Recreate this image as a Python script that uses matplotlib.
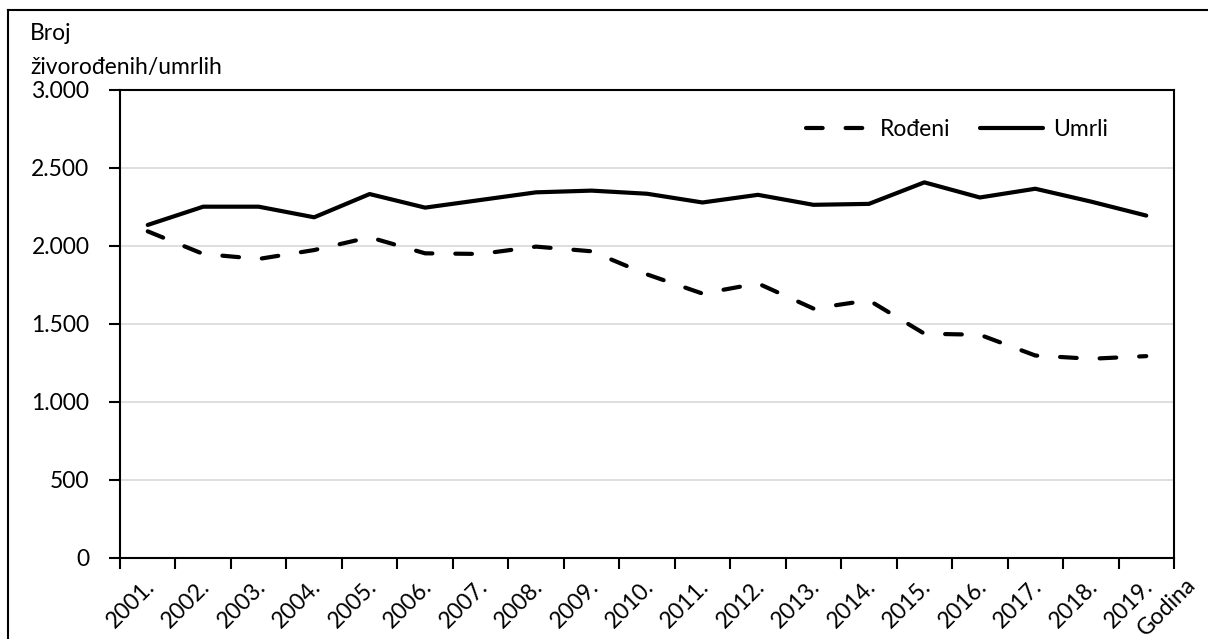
import numpy as np
import matplotlib
matplotlib.use("Agg")
import matplotlib.pyplot as plt
import matplotlib.transforms as mtransforms
from matplotlib.lines import Line2D
from matplotlib.ticker import FuncFormatter

plt.rcParams['font.family'] = ['Lato', 'DejaVu Sans']

# data
years = ['2001.', '2002.', '2003.', '2004.', '2005.', '2006.', '2007.', '2008.', '2009.', '2010.',
         '2011.', '2012.', '2013.', '2014.', '2015.', '2016.', '2017.', '2018.', '2019.']
rodjeni = [2094, 1949, 1917, 1974, 2056, 1953, 1949, 1996, 1966, 1818,
           1695, 1760, 1599, 1652, 1438, 1431, 1298, 1277, 1294]
umrli = [2135, 2252, 2252, 2184, 2333, 2246, 2295, 2344, 2355, 2335,
         2279, 2328, 2264, 2270, 2408, 2311, 2367, 2285, 2195]

fs = 16.5
fig = plt.figure(figsize=(12.08, 6.39), dpi=100)
ax = fig.add_axes([120/1208, 1-558/639, (1174-120)/1208, (558-90)/639])

x = np.arange(len(years))
ax.plot(x, rodjeni, color='black', lw=3, linestyle=(0, (4, 5.5)), dash_capstyle='round',
        label='Rođeni')
ax.plot(x, umrli, color='black', lw=3, solid_capstyle='round', label='Umrli')

ax.set_xlim(-0.5, len(years) - 0.5)
ax.set_ylim(0, 3000)
ax.set_yticks(np.arange(0, 3001, 500))
ax.yaxis.set_major_formatter(FuncFormatter(lambda v, p: f"{v:,.0f}".replace(",", ".")))
ax.grid(axis='y', color='#d9d9d9', lw=1.2)
ax.set_axisbelow(True)

# labels at category centres, tick marks at category boundaries
ax.set_xticks(x)
ax.set_xticklabels(years, rotation=45, ha='right', va='top', rotation_mode='anchor', fontsize=fs)
ax.tick_params(axis='x', which='major', length=0, pad=13)
shift = mtransforms.ScaledTranslation(-4/100, 0, fig.dpi_scale_trans)
for lab in ax.get_xticklabels():
    lab.set_transform(lab.get_transform() + shift)
ax.set_xticks(np.arange(-0.5, len(years)), minor=True)
ax.tick_params(axis='x', which='minor', length=8, width=1.5, direction='out')
ax.tick_params(axis='y', length=8, width=1.5, labelsize=fs, pad=14)

for s in ax.spines.values():
    s.set_linewidth(1.5)
    s.set_color('black')

ax.text(18.7, -0.035, 'Godina', transform=ax.get_xaxis_transform(), rotation=45,
        ha='right', va='top', rotation_mode='anchor', fontsize=fs)

fig.text(30/1208, 1-40/639, 'Broj', fontsize=fs, ha='left', va='baseline')
fig.text(30/1208, 1-74/639, 'živorođenih/umrlih', fontsize=fs, ha='left', va='baseline')

ax.legend(loc='center right', bbox_to_anchor=(0.957, 0.915), ncol=2, frameon=False,
          fontsize=fs, handlelength=2.75, handletextpad=0.45, columnspacing=1.3)

# outer border of the chart area (right and bottom edges fall outside the picture)
fig.add_artist(Line2D([8/1208, 1], [1-10/639, 1-10/639], color='black', lw=1.5,
                      transform=fig.transFigure))
fig.add_artist(Line2D([8/1208, 8/1208], [0, 1-10/639], color='black', lw=1.5,
                      transform=fig.transFigure))

fig.savefig('out.png', dpi=100)
